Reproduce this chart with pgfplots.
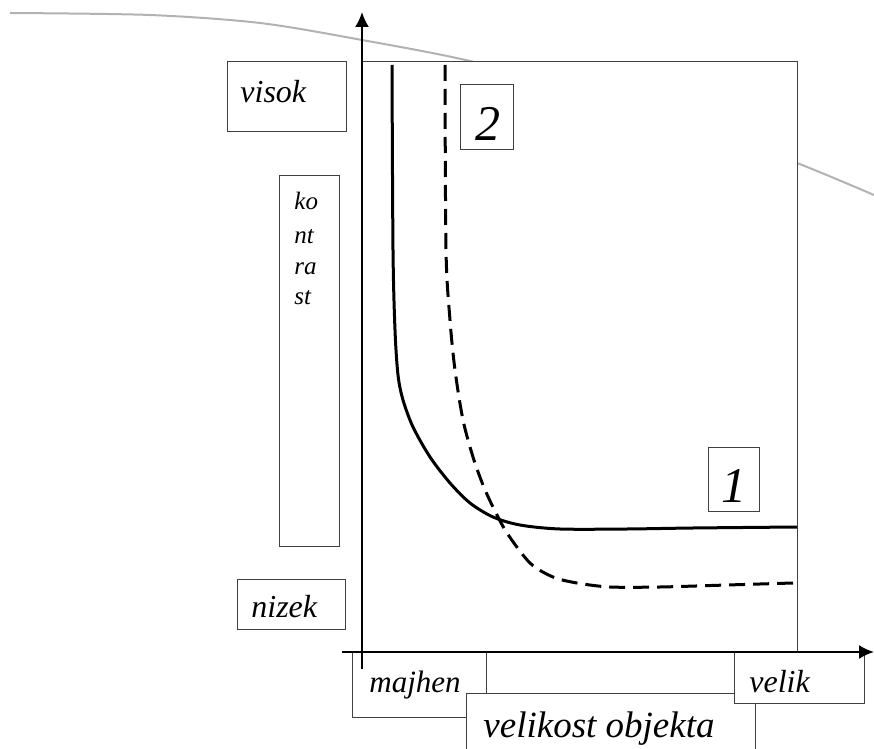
\documentclass[border=0pt]{standalone}
\usepackage{fontspec}
\setmainfont{Liberation Serif}
\usepackage{pgfplots}
\pgfplotsset{compat=1.18}
\usetikzlibrary{arrows.meta}

% pixel-based sketch: 1px = 0.5pt, y runs downward
\tikzset{lbl/.style={black!75, line width=0.5pt, fill=white}}
\newcommand{\fs}[1]{\fontsize{#1}{#1}\selectfont\itshape}

\begin{document}
\begin{tikzpicture}
\begin{axis}[
  scale only axis, width=437pt, height=374.5pt,
  xmin=0, xmax=874, ymin=0, ymax=749, y dir=reverse,
  hide axis, clip=false,
]
% grey arc in the background
\addplot[gray!60, line width=1pt, smooth] coordinates {
  (10,13) (150,15) (260,23) (362,40) (474,62) (600,98) (700,128) (797,163) (874,195)};

% plot frame
\draw[lbl] (362,62) rectangle (797,652);

% curve 1 (solid)
\addplot[black, line width=1.5pt, smooth] coordinates {
  (392,65) (393,250) (395,330) (398,375) (403,400) (413,427) (430,457)
  (450,483) (470,503) (493,517) (520,525) (560,529) (627,529) (693,528) (797,527)};

% curve 2 (dashed)
\addplot[black, line width=1.5pt, smooth, dash pattern=on 8pt off 4pt] coordinates {
  (445,65) (446,250) (450,320) (455,370) (463,420) (473,457) (483,485)
  (493,507) (507,533) (530,563) (553,577) (577,583) (610,587) (660,587) (727,585) (793,583)};

% curve labels
\draw[lbl] (460,85) rectangle (513,150);
\node[font=\fs{25pt}, inner sep=0pt] at (488,124) {2};
\draw[lbl] (708,447) rectangle (759,511);
\node[font=\fs{25pt}, inner sep=0pt] at (734,486) {1};

% y labels
\draw[lbl] (227,62) rectangle (346,132);
\node[anchor=base west, font=\fs{16pt}, inner sep=0pt] at (240,103) {visok};
\draw[lbl] (279,176) rectangle (339,546);
\node[anchor=base west, font=\fs{12.5pt}, inner sep=0pt] at (294,210) {ko};
\node[anchor=base west, font=\fs{12.5pt}, inner sep=0pt] at (294,243) {nt};
\node[anchor=base west, font=\fs{12.5pt}, inner sep=0pt] at (294,274) {ra};
\node[anchor=base west, font=\fs{12.5pt}, inner sep=0pt] at (294,305) {st};
\draw[lbl] (237,579) rectangle (345,629);
\node[anchor=base west, font=\fs{16pt}, inner sep=0pt] at (251,617) {nizek};

% x labels
\draw[lbl] (352,652) rectangle (486,717);
\node[anchor=base west, font=\fs{15.5pt}, inner sep=0pt] at (369,692) {majhen};
\draw[lbl] (466,752) -- (466,693) -- (755,693) -- (755,752);
\node[anchor=base west, font=\fs{18.5pt}, inner sep=0pt] at (483,737) {velikost objekta};
\draw[lbl] (734,652) rectangle (864,703);
\node[anchor=base west, font=\fs{16pt}, inner sep=0pt] at (749,692) {velik};

% axes arrows
\draw[black, line width=1pt, -{Latex[length=7.5pt,width=7pt]}] (362,669) -- (362,12);
\draw[black, line width=1pt, -{Latex[length=7.5pt,width=7pt]}] (342,652) -- (874,652);
\end{axis}
\pgfresetboundingbox
\useasboundingbox (current axis.south west) rectangle (current axis.north east);
\end{tikzpicture}
\end{document}
